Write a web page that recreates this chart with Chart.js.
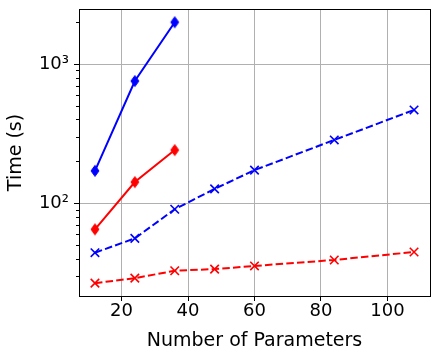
<!DOCTYPE html>
<html>
<head>
<meta charset="utf-8">
<script src="https://cdn.jsdelivr.net/npm/chart.js@4/dist/chart.umd.min.js"></script>
<style>
html,body{margin:0;padding:0;background:#fff;}
#wrap{width:440px;height:359px;position:relative;}
</style>
</head>
<body>
<div id="wrap"><canvas id="c" width="440" height="359"></canvas></div>
<script>
// Data
const paramsShort = [12, 24, 36];
const blueSolid = [171, 755, 1995];
const redSolid = [65, 142, 241];
const paramsLong = [12, 24, 36, 48, 60, 84, 108];
const blueDashed = [44.2, 56, 90.6, 127, 173, 285, 468];
const redDashed = [26.7, 29, 32.8, 33.7, 35.5, 39.2, 44.7];
const xTicks = [20, 40, 60, 80, 100];
const yMajor = [100, 1000];
const yMinor = [30, 40, 50, 60, 70, 80, 90, 200, 300, 400, 500, 600, 700, 800, 900, 2000];

function pts(xs, ys){ return xs.map((x,i)=>({x:x, y:ys[i]})); }

function diamond(color){
  const c = document.createElement('canvas');
  c.width = 12; c.height = 14;
  const g = c.getContext('2d');
  g.fillStyle = color; g.strokeStyle = color; g.lineWidth = 1;
  g.beginPath();
  g.moveTo(6, 1.5); g.lineTo(10, 7); g.lineTo(6, 12.5); g.lineTo(2, 7); g.closePath();
  g.fill(); g.stroke();
  return c;
}

const FONT = "'DejaVu Sans', sans-serif";
const supLabel = {100:'10\u00B2', 1000:'10\u00B3'};

const framePlugin = {
  id:'frame',
  afterDraw(chart){
    const a = chart.chartArea, ctx = chart.ctx;
    const y = chart.scales.y;
    ctx.save();
    ctx.strokeStyle = '#000'; ctx.lineWidth = 1;
    ctx.beginPath();
    yMinor.forEach(v=>{
      const p = Math.round(y.getPixelForValue(v)) + 0.5;
      if (p < a.top || p > a.bottom) return;
      ctx.moveTo(a.left, p); ctx.lineTo(a.left - 3, p);
    });
    ctx.stroke();
    ctx.strokeRect(Math.round(a.left)+0.5, Math.round(a.top)+0.5, Math.round(a.right-a.left), Math.round(a.bottom-a.top));
    ctx.restore();
  }
};

new Chart(document.getElementById('c'), {
  type:'line',
  data:{
    datasets:[
      {data:pts(paramsShort, blueSolid), borderColor:'#0000ff', backgroundColor:'#0000ff', borderWidth:2,
       pointStyle:diamond('#0000ff'), pointRadius:6},
      {data:pts(paramsShort, redSolid), borderColor:'#ff0000', backgroundColor:'#ff0000', borderWidth:2,
       pointStyle:diamond('#ff0000'), pointRadius:6},
      {data:pts(paramsLong, blueDashed), borderColor:'#0000ff', backgroundColor:'#0000ff', borderWidth:2,
       borderDash:[7.5,3.2], pointStyle:'crossRot', pointRadius:6, pointBorderWidth:1.6},
      {data:pts(paramsLong, redDashed), borderColor:'#ff0000', backgroundColor:'#ff0000', borderWidth:2,
       borderDash:[7.5,3.2], pointStyle:'crossRot', pointRadius:6, pointBorderWidth:1.6}
    ]
  },
  options:{
    responsive:false, animation:false,
    layout:{padding:{top:9, right:10, left:0, bottom:0}},
    plugins:{legend:{display:false}, tooltip:{enabled:false}},
    elements:{line:{tension:0}},
    scales:{
      x:{
        type:'linear', min:7.2, max:112.8,
        afterBuildTicks(s){ s.ticks = xTicks.map(v=>({value:v})); },
        afterFit(s){ s.height = 63; s.paddingLeft = 0; s.paddingRight = 0; },
        grid:{color:'#b0b0b0', lineWidth:1, tickColor:'#000', tickLength:5},
        border:{color:'#000', width:1},
        ticks:{color:'#000', font:{family:FONT, size:18}, padding:0, maxRotation:0, autoSkip:false},
        title:{display:true, text:'Number of Parameters', color:'#000', font:{family:FONT, size:19}, padding:{top:0, bottom:7}}
      },
      y:{
        type:'logarithmic', min:21.6, max:2483,
        afterBuildTicks(s){ s.ticks = yMajor.map(v=>({value:v, major:true})); },
        afterFit(s){ s.width = 79; s.paddingTop = 0; s.paddingBottom = 0; },
        grid:{color:'#b0b0b0', lineWidth:1, tickColor:'#000', tickLength:5},
        border:{color:'#000', width:1},
        ticks:{color:'#000', font:{family:FONT, size:18}, padding:5, autoSkip:false,
          callback:(v)=>supLabel[v] || ''},
        title:{display:true, text:'Time (s)', color:'#000', font:{family:FONT, size:19}, padding:{top:5, bottom:0}}
      }
    }
  },
  plugins:[framePlugin]
});
</script>
</body>
</html>
